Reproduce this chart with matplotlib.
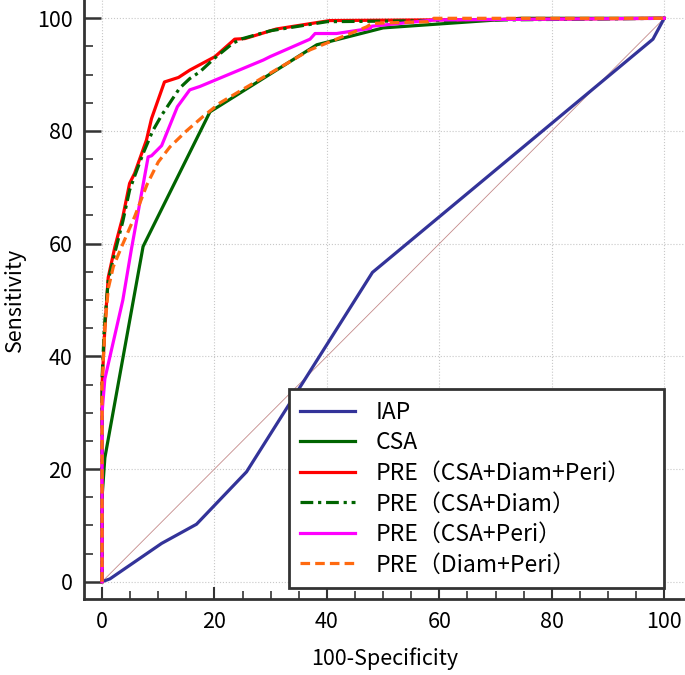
import matplotlib
matplotlib.use("Agg")
import matplotlib.pyplot as plt
from matplotlib.ticker import MultipleLocator

plt.rcParams["font.family"] = ["Noto Sans CJK SC", "DejaVu Sans"]

# ROC curves: x = 100-Specificity, y = Sensitivity
iap_x = [0, 1.4, 10.6, 16.8, 25.7, 48.1, 98.0, 100]
iap_y = [0, 0.5, 6.8, 10.2, 19.5, 54.9, 96.3, 100]

csa_x = [0, 0, 0.5, 7.3, 19.2, 38.2, 50.0, 74.4, 100]
csa_y = [0, 15, 22, 59.5, 83.4, 95.3, 98.3, 100, 100]

pre_all_x = [0, 0, 0.5, 1.1, 2.3, 3.7, 4.9, 5.8, 7.9, 8.8, 11.1, 13.6, 15.6, 20.1, 23.6, 25.4, 31.0, 40.5, 100]
pre_all_y = [0, 35, 45, 54, 59.5, 64.8, 70.7, 72.5, 78.4, 82.2, 88.7, 89.5, 90.8, 93.2, 96.3, 96.4, 98.1, 99.6, 100]

pre_cd_x = [0, 0, 0.4, 1.1, 2.3, 3.7, 4.9, 5.8, 7.3, 9.0, 10.6, 13.8, 15.6, 17.4, 20.1, 23.3, 25.0, 30.0, 40.0, 100]
pre_cd_y = [0, 36, 45, 53.5, 58.5, 64, 69.5, 72, 76, 80, 82.8, 87.6, 89.3, 90.5, 93, 95.6, 96.4, 97.8, 99.4, 100]

pre_cp_x = [0, 0, 0.5, 3.7, 5.2, 8.2, 8.8, 10.6, 13.4, 15.6, 17.4, 28.7, 29.9, 37.0, 37.9, 41.7, 47.7, 48.0, 59.0, 100]
pre_cp_y = [0, 30, 36, 50, 58.9, 75.4, 75.6, 77.4, 84.3, 87.3, 87.9, 92.6, 93.2, 96.3, 97.3, 97.3, 98.2, 98.6, 99.7, 100]

pre_dp_x = [0, 0, 0.5, 1.1, 2.0, 3.5, 5.8, 8.0, 10.0, 12.1, 15.0, 18.0, 21.0, 29.3, 37.0, 47.1, 48.0, 58.0, 59.0, 100]
pre_dp_y = [0, 35, 45, 52, 55.9, 59.5, 64.8, 70.5, 74.5, 77.2, 80, 82.6, 85, 89.9, 94.4, 98.5, 99.1, 99.4, 100, 100]

labels = ["IAP", "CSA", "PRE（CSA+Diam+Peri）", "PRE（CSA+Diam）",
          "PRE（CSA+Peri）", "PRE（Diam+Peri）"]

fig = plt.figure(figsize=(6.85, 6.75), dpi=100)
ax = fig.add_axes([83.5 / 685, 76 / 675, 1 - 83.5 / 685, 599 / 675])

lw = 2.3
ax.plot([0, 100], [0, 100], color="#c48a8a", linewidth=0.6, zorder=1)
ax.plot(iap_x, iap_y, color="#333399", linewidth=lw, label=labels[0])
ax.plot(csa_x, csa_y, color="#006400", linewidth=lw, label=labels[1])
ax.plot(pre_all_x, pre_all_y, color="#ff0000", linewidth=lw, label=labels[2])
ax.plot(pre_cd_x, pre_cd_y, color="#006400", linewidth=lw,
        linestyle=(0, (4, 1.5, 1, 1.5)), label=labels[3])
ax.plot(pre_cp_x, pre_cp_y, color="#ff00ff", linewidth=lw, label=labels[4])
ax.plot(pre_dp_x, pre_dp_y, color="#ff6a10", linewidth=lw,
        linestyle=(0, (3, 1.6)), label=labels[5])

ax.set_xlim(-3.3, 103.7)
ax.set_ylim(-3.07, 103.25)

ax.xaxis.set_major_locator(MultipleLocator(20))
ax.xaxis.set_minor_locator(MultipleLocator(5))
ax.yaxis.set_major_locator(MultipleLocator(20))
ax.yaxis.set_minor_locator(MultipleLocator(5))

ax.grid(True, which="major", color="#c8c8c8", linestyle=":", linewidth=0.8)
ax.set_axisbelow(True)

for side in ("top", "right"):
    ax.spines[side].set_visible(False)
for side in ("left", "bottom"):
    ax.spines[side].set_linewidth(2.0)
    ax.spines[side].set_color("#333333")

ax.tick_params(axis="x", which="major", direction="in", length=8.6, width=1.5,
               color="#333333", labelsize=15.5, pad=9)
ax.tick_params(axis="x", which="minor", direction="in", length=5.8, width=1.2,
               color="#333333")
ax.tick_params(axis="y", which="major", direction="in", length=12.5, width=1.8,
               color="#333333", labelsize=15.5, pad=8)
ax.tick_params(axis="y", which="minor", direction="in", length=6.5, width=1.2,
               color="#333333")

ax.set_xlabel("100-Specificity", fontsize=15.5, labelpad=10)
ax.set_ylabel("Sensitivity", fontsize=15.5, labelpad=8)

# legend box spans x 33.2..100 of the data range, sitting on the bottom edge
leg = ax.legend(loc="lower left", bbox_to_anchor=(33.2, -1.1, 66.8, 30),
                bbox_transform=ax.transData, borderaxespad=0, mode="expand",
                fontsize=16.5, frameon=True, fancybox=False, framealpha=1,
                edgecolor="#333333", labelspacing=0.33, handlelength=2.4,
                handletextpad=0.9, borderpad=0.5)
leg.get_frame().set_linewidth(2.0)

fig.savefig("out.png", dpi=100)
